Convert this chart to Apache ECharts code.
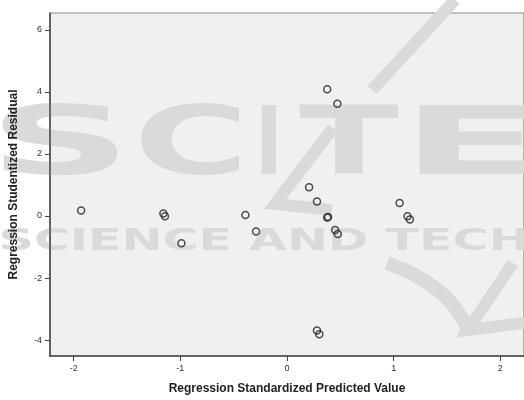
<!DOCTYPE html>
<html>
<head>
<meta charset="utf-8">
<script src="https://cdn.jsdelivr.net/npm/echarts@6/dist/echarts.min.js"></script>
<style>html,body{margin:0;padding:0;background:#fff}#c{width:524px;height:400px}</style>
</head>
<body>
<div id="c"></div>
<script>
// Data
const predicted = [-1.93, -1.159, -1.144, -0.99, -0.39, -0.29, 0.377, 0.472, 0.207, 0.281, 0.377, 0.385, 0.451, 0.476, 0.281, 0.303, 1.056, 1.13, 1.152];
const residual  = [0.18, 0.08, -0.01, -0.88, 0.03, -0.50, 4.08, 3.62, 0.93, 0.47, -0.05, -0.03, -0.45, -0.58, -3.69, -3.81, 0.42, -0.01, -0.11];
const xTicks = [-2, -1, 0, 1, 2];
const yTicks = [-4, -2, 0, 2, 4, 6];
const xTitle = 'Regression Standardized Predicted Value';
const yTitle = 'Regression Studentized Residual';
const watermarkBig = ['S', 'C', 'I', 'T', 'E'];
const watermarkSmall = 'SCIENCE AND TECH';

const chart = echarts.init(document.getElementById('c'), null, {renderer: 'canvas'});
const wmColor = '#dadada';
const bigX = [60, 191, 269, 349, 472];
const bigScale = [2.1, 1.66, 0.8, 1.54, 2.2];
const graphics = [];
watermarkBig.forEach((ch, i) => {
  graphics.push({
    type: 'text', z: 1, silent: true,
    x: bigX[i], y: 149,
    scaleX: bigScale[i],
    style: {text: ch, fill: wmColor, font: 'bold 95px "DejaVu Sans"', align: 'center', verticalAlign: 'middle'}
  });
});
graphics.push({
  type: 'text', z: 1, silent: true, x: 264, y: 242, scaleX: 1.58,
  style: {text: watermarkSmall, fill: wmColor, font: 'bold 31px "DejaVu Sans"', align: 'center', verticalAlign: 'middle'}
});
graphics.push({type: 'polyline', z: 1, silent: true, shape: {points: [[455, 0], [372, 90]]}, style: {stroke: wmColor, lineWidth: 12}});
graphics.push({type: 'polyline', z: 1, silent: true, shape: {points: [[333, 128], [275, 204], [332, 210]]}, style: {stroke: wmColor, lineWidth: 12}});
graphics.push({type: 'bezierCurve', z: 1, silent: true,
  shape: {x1: 387, y1: 263, cpx1: 450, cpy1: 285, x2: 468, y2: 330}, style: {stroke: wmColor, lineWidth: 14, fill: null}});
graphics.push({type: 'polyline', z: 1, silent: true, shape: {points: [[513, 263], [468, 330], [530, 322]]}, style: {stroke: wmColor, lineWidth: 12}});

chart.setOption({
  animation: false,
  backgroundColor: '#ffffff',
  grid: {z: 0, left: 45, top: 13, width: 480, height: 346, show: true, backgroundColor: '#f0f0f0', borderColor: '#8a8a8a', borderWidth: 1.2},
  graphic: graphics,
  xAxis: {
    type: 'value', z: 3, min: -2.222, max: 2.222,
    name: xTitle, nameLocation: 'middle', nameGap: 27,
    nameTextStyle: {fontFamily: 'Liberation Sans', fontWeight: 'bold', fontSize: 12, color: '#222'},
    axisLine: {show: true, onZero: false, lineStyle: {color: '#444', width: 1.5}},
    axisTick: {show: true, length: 5, lineStyle: {color: '#444'}, customValues: xTicks},
    axisLabel: {customValues: xTicks, margin: 8, fontSize: 9, color: '#333', fontFamily: 'Liberation Sans'},
    splitLine: {show: false}
  },
  yAxis: {
    type: 'value', z: 3, min: -4.51, max: 6.54,
    name: yTitle, nameLocation: 'middle', nameGap: 30,
    nameTextStyle: {fontFamily: 'Liberation Sans', fontWeight: 'bold', fontSize: 12, color: '#222'},
    axisLine: {show: true, onZero: false, lineStyle: {color: '#444', width: 1.5}},
    axisTick: {show: true, length: 5, lineStyle: {color: '#444'}, customValues: yTicks},
    axisLabel: {customValues: yTicks, margin: 8, fontSize: 9, color: '#333', fontFamily: 'Liberation Sans'},
    splitLine: {show: false}
  },
  series: [{
    type: 'scatter', z: 5,
    data: predicted.map((x, i) => [x, residual[i]]),
    symbol: 'circle', symbolSize: 7,
    itemStyle: {color: 'rgba(0,0,0,0)', borderColor: '#222', borderWidth: 1.5}
  }]
});
</script>
</body>
</html>
